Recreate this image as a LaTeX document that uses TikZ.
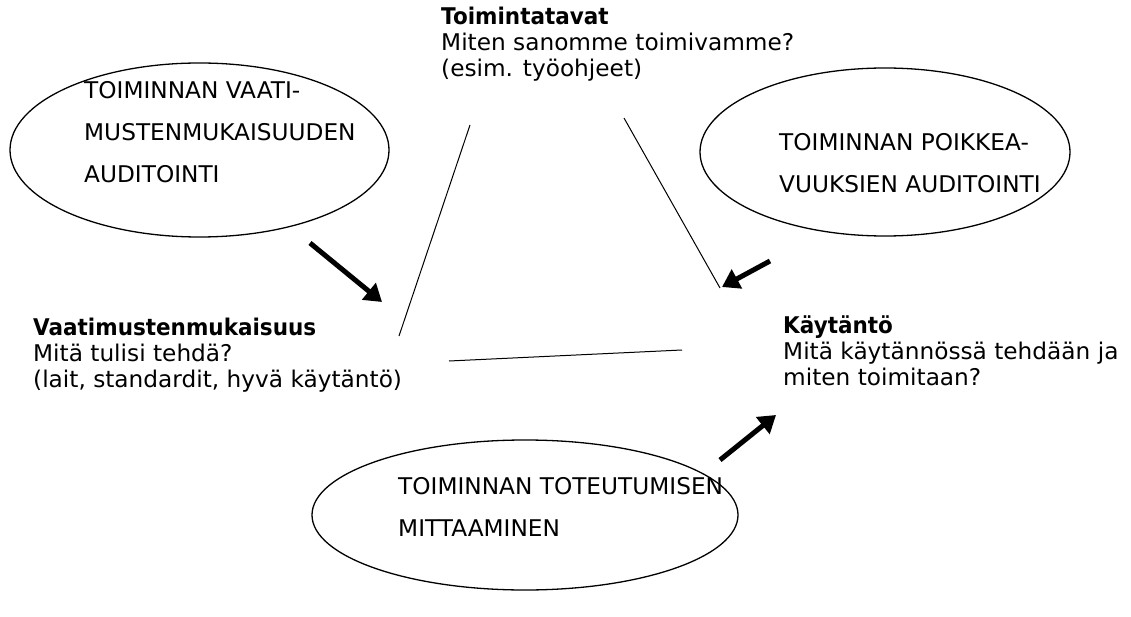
\documentclass[tikz,border=0pt]{standalone}
\usepackage{fontspec}
\setmainfont{DejaVu Sans}[FakeStretch=1.01]
\newfontfamily\headfont{DejaVu Sans}[FakeStretch=0.935]
\usetikzlibrary{arrows.meta,shapes.geometric}
\begin{document}
\begin{tikzpicture}[x=1pt,y=-1pt,
  lbl/.style={inner sep=0pt,anchor=base west,align=left,font=\fontsize{23}{26}\selectfont},
  caps/.style={inner sep=0pt,anchor=base west,align=left,font=\fontsize{23}{42}\selectfont},
  oval/.style={ellipse,draw,line width=1.3pt,inner sep=0pt},
  edge/.style={line width=1pt},
  bigarrow/.style={line width=5pt,-{Triangle[length=17pt,width=21pt]}}]
\useasboundingbox (0,0) rectangle (1131,617);
% ovals
\node[oval,minimum width=379pt,minimum height=174pt] (ovA) at (199.5,150) {};
\node[oval,minimum width=370pt,minimum height=168pt] (ovB) at (885,152) {};
\node[oval,minimum width=426pt,minimum height=150pt] (ovC) at (525,515) {};
% oval texts (anchored at the baseline of their last line)
\node[caps] (tA) at (84,183) {TOIMINNAN VAATI-\\MUSTENMUKAISUUDEN\\AUDITOINTI};
\node[caps] (tB) at (779,192.5) {TOIMINNAN POIKKEA-\\VUUKSIEN AUDITOINTI};
\node[caps] (tC) at (398,536.5) {TOIMINNAN TOTEUTUMISEN\\MITTAAMINEN};
% corner texts
\node[lbl] (top) at (441,77) {{\headfont\bfseries Toimintatavat}\\Miten sanomme toimivamme?\\(esim. työohjeet)};
\node[lbl] (left) at (33,387) {{\headfont\bfseries Vaatimustenmukaisuus}\\Mitä tulisi tehdä?\\(lait, standardit, hyvä käytäntö)};
\node[lbl] (right) at (783,385) {{\headfont\bfseries Käytäntö}\\Mitä käytännössä tehdään ja\\miten toimitaan?};
% triangle edges
\coordinate (e1a) at (470,125); \coordinate (e1b) at (399,336);
\coordinate (e2a) at (624,118); \coordinate (e2b) at (720,288);
\coordinate (e3a) at (449,361); \coordinate (e3b) at (682,350);
\draw[edge] (e1a) -- (e1b);
\draw[edge] (e2a) -- (e2b);
\draw[edge] (e3a) -- (e3b);
% arrows
\coordinate (a1s) at (310,243); \coordinate (a1e) at (382,302);
\coordinate (a2s) at (770,261); \coordinate (a2e) at (722,287);
\coordinate (a3s) at (720,460); \coordinate (a3e) at (776,415);
\draw[bigarrow] (a1s) -- (a1e);
\draw[bigarrow] (a2s) -- (a2e);
\draw[bigarrow] (a3s) -- (a3e);
\end{tikzpicture}
\end{document}
